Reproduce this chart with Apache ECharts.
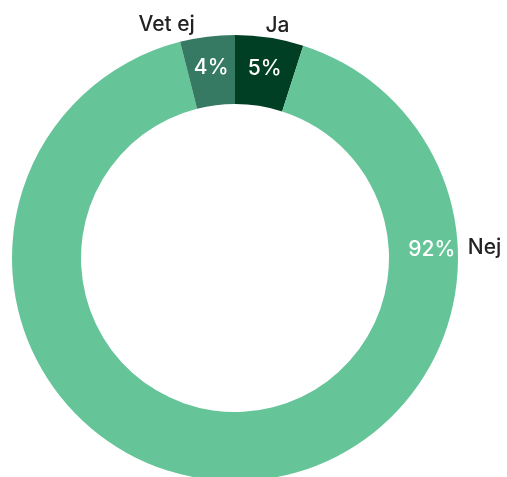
<!DOCTYPE html>
<html>
<head>
<meta charset="utf-8">
<script src="https://cdn.jsdelivr.net/npm/echarts@6/dist/echarts.min.js"></script>
<style>
html,body{margin:0;padding:0;background:#fff;}
#chart{width:507px;height:477px;}
</style>
</head>
<body>
<div id="chart"></div>
<script>
var categories = ['Ja', 'Nej', 'Vet ej'];
var values = [5, 92, 4];
var colors = ['#003f23', '#66c499', '#377a64'];

var CX = 235, CY = 258, R_IN = 154, R_OUT = 223;
var FONT = 'Inter, "Noto Sans", sans-serif';

var total = values.reduce(function (a, b) { return a + b; }, 0);
var maxIdx = values.indexOf(Math.max.apply(null, values));
// label angle in degrees, clockwise from 12 o'clock
var labelAngles = [];
(function () {
  var acc = 0;
  for (var i = 0; i < values.length; i++) {
    var a = values[i] / total * 360;
    labelAngles.push(i === maxIdx ? 87.5 : acc + a / 2);
    acc += a;
  }
})();
function pt(i, r) {
  var t = labelAngles[i] * Math.PI / 180;
  return [CX + r * Math.sin(t), CY - r * Math.cos(t)];
}

var data = categories.map(function (c, i) {
  return { name: c, value: values[i], itemStyle: { color: colors[i] } };
});

var chart = echarts.init(document.getElementById('chart'), null, { renderer: 'canvas' });
chart.setOption({
  animation: false,
  series: [
    {
      type: 'pie',
      center: [CX, CY],
      radius: [R_IN, R_OUT],
      startAngle: 90,
      clockwise: true,
      avoidLabelOverlap: false,
      silent: true,
      data: data,
      label: {
        show: true,
        position: 'inside',
        formatter: function (p) { return p.value + '%'; },
        color: '#ffffff',
        fontFamily: FONT,
        fontWeight: 500,
        fontSize: 21
      },
      labelLine: { show: false },
      labelLayout: function (p) {
        var q = pt(p.dataIndex, p.dataIndex === maxIdx ? 197 : 192);
        return { x: q[0], y: q[1], align: 'center', verticalAlign: 'middle' };
      }
    },
    {
      type: 'pie',
      center: [CX, CY],
      radius: [R_IN, R_OUT],
      startAngle: 90,
      clockwise: true,
      avoidLabelOverlap: false,
      silent: true,
      data: categories.map(function (c, i) {
        return { name: c, value: values[i], itemStyle: { color: 'rgba(0,0,0,0)' } };
      }),
      label: {
        show: true,
        position: 'outside',
        formatter: '{b}',
        color: '#222222',
        fontFamily: FONT,
        fontWeight: 500,
        fontSize: 21
      },
      labelLine: { show: false },
      labelLayout: function (p) {
        var i = p.dataIndex;
        if (i === maxIdx) {
          var q = pt(i, 233);
          return { x: q[0], y: q[1], align: 'left', verticalAlign: 'middle' };
        }
        var q2 = pt(i, 235);
        var left = q2[0] < CX;
        return {
          x: q2[0] + (left ? -11 : -6),
          y: q2[1],
          align: left ? 'right' : 'left',
          verticalAlign: 'middle'
        };
      }
    }
  ]
});
</script>
</body>
</html>
